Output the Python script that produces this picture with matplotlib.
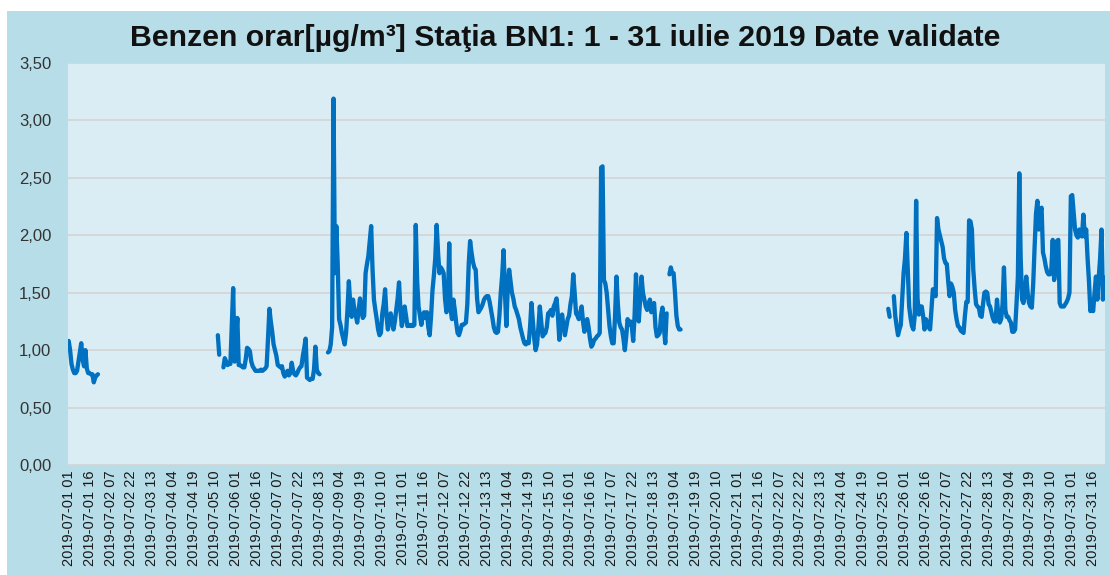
import numpy as np
import pandas as pd
import matplotlib
matplotlib.use("Agg")
import matplotlib.pyplot as plt
from matplotlib.patches import Rectangle
from matplotlib.ticker import FuncFormatter

# hourly benzene values, July 2019, station BN1 (None = missing hour)
start_hour = "2019-07-01 01:00"
n_hours = 744

seg1_start = 0
seg1 = [1.08, 1.00, 0.88, 0.83, 0.80, 0.80, 0.82, 0.90, 0.98, 1.06,
        0.92, 0.86, 1.00, 0.84, 0.80, 0.80, 0.79, 0.79, 0.72, 0.76,
        0.78, 0.79]

seg2_start = 107
seg2 = [1.13, 0.96, None, None, 0.85, 0.93, 0.90, 0.87, 0.88, 0.88,
        1.20, 1.54, 0.90, 1.10, 1.28, 0.87, 0.87, 0.86, 0.85, 0.85,
        0.92, 1.02, 1.01, 0.99, 0.90, 0.86, 0.84, 0.82, 0.82, 0.82,
        0.82, 0.83, 0.82, 0.83, 0.84, 0.86, 1.10, 1.36, 1.25, 1.16,
        1.05, 1.00, 0.95, 0.87, 0.86, 0.85, 0.86, 0.80, 0.77, 0.80,
        0.82, 0.78, 0.80, 0.89, 0.82, 0.79, 0.78, 0.80, 0.83, 0.85,
        0.86, 0.95, 1.02, 1.10, 0.76, 0.75, 0.74, 0.75, 0.75, 0.83,
        1.03, 0.83, 0.80, 0.79]

seg3_start = 186
seg3 = [0.98, 0.99, 1.05, 1.20, 3.19, 1.67, 2.08, 1.75, 1.27, 1.22,
        1.15, 1.10, 1.05, 1.15, 1.35, 1.60, 1.40, 1.29, 1.44, 1.35,
        1.30, 1.24, 1.35, 1.45, 1.35, 1.28, 1.30, 1.67, 1.75, 1.82,
        1.95, 2.08, 1.70, 1.44, 1.35, 1.27, 1.18, 1.13, 1.15, 1.32,
        1.40, 1.53, 1.30, 1.18, 1.25, 1.32, 1.25, 1.18, 1.25, 1.35,
        1.45, 1.59, 1.35, 1.21, 1.28, 1.38, 1.30, 1.21, 1.22, 1.21,
        1.22, 1.21, 1.22, 2.09, 1.60, 1.38, 1.30, 1.22, 1.30, 1.33,
        1.28, 1.33, 1.20, 1.13, 1.30, 1.52, 1.65, 1.80, 2.09, 1.85,
        1.67, 1.72, 1.70, 1.67, 1.45, 1.33, 1.40, 1.93, 1.35, 1.27,
        1.44, 1.35, 1.24, 1.15, 1.13, 1.17, 1.22, 1.22, 1.23, 1.24,
        1.40, 1.75, 1.95, 1.85, 1.77, 1.72, 1.70, 1.45, 1.33, 1.35,
        1.37, 1.40, 1.44, 1.46, 1.47, 1.47, 1.42, 1.35, 1.28, 1.20,
        1.16, 1.15, 1.16, 1.30, 1.50, 1.65, 1.87, 1.50, 1.21, 1.55,
        1.70, 1.60, 1.50, 1.45, 1.38, 1.35, 1.31, 1.27, 1.20, 1.15,
        1.10, 1.06, 1.05, 1.07, 1.06, 1.20, 1.41, 1.25, 1.10, 1.00,
        1.05, 1.20, 1.38, 1.25, 1.12, 1.14, 1.15, 1.20, 1.32, 1.33,
        1.35, 1.30, 1.38, 1.41, 1.45, 1.30, 1.09, 1.25, 1.31, 1.20,
        1.13, 1.20, 1.27, 1.30, 1.40, 1.47, 1.66, 1.50, 1.32, 1.30,
        1.27, 1.33, 1.38, 1.25, 1.16, 1.22, 1.27, 1.20, 1.10, 1.03,
        1.05, 1.09, 1.10, 1.12, 1.13, 1.15, 2.59, 2.60, 1.61, 1.58,
        1.50, 1.35, 1.21, 1.12, 1.06, 1.06, 1.30, 1.64, 1.40, 1.24,
        1.20, 1.18, 1.10, 1.00, 1.12, 1.27, 1.22, 1.25, 1.21, 1.08,
        1.30, 1.66, 1.35, 1.25, 1.45, 1.64, 1.50, 1.44, 1.38, 1.35,
        1.40, 1.44, 1.33, 1.38, 1.41, 1.20, 1.12, 1.13, 1.15, 1.30,
        1.37, 1.20, 1.06, 1.32, None, 1.66, 1.72, 1.67, 1.67, 1.50,
        1.30, 1.21, 1.18, 1.18]

seg4_start = 588
seg4 = [1.36, 1.29, None, None, 1.47, 1.30, 1.21, 1.13, 1.18, 1.22,
        1.45, 1.67, 1.80, 2.02, 1.70, 1.38, 1.28, 1.21, 1.18, 1.30,
        2.30, 1.45, 1.31, 1.38, 1.38, 1.30, 1.18, 1.27, 1.24, 1.20,
        1.18, 1.35, 1.53, 1.50, 1.47, 2.15, 2.05, 2.00, 1.95, 1.90,
        1.80, 1.76, 1.75, 1.60, 1.47, 1.58, 1.55, 1.50, 1.35, 1.27,
        1.21, 1.20, 1.17, 1.16, 1.15, 1.30, 1.42, 1.42, 2.13, 2.12,
        2.05, 1.70, 1.53, 1.40, 1.38, 1.37, 1.30, 1.29, 1.40, 1.50,
        1.51, 1.50, 1.40, 1.38, 1.33, 1.28, 1.25, 1.25, 1.44, 1.30,
        1.24, 1.27, 1.40, 1.72, 1.35, 1.29, 1.29, 1.26, 1.24, 1.16,
        1.16, 1.18, 1.40, 1.64, 2.54, 1.80, 1.44, 1.41, 1.50, 1.64,
        1.50, 1.41, 1.38, 1.37, 1.58, 1.90, 2.19, 2.30, 2.05, 2.20,
        2.24, 1.85, 1.80, 1.73, 1.68, 1.66, 1.66, 1.70, 1.96, 1.61,
        1.70, 1.95, 1.96, 1.41, 1.38, 1.38, 1.38, 1.40, 1.42, 1.45,
        1.50, 2.34, 2.35, 2.20, 2.05, 2.00, 1.98, 2.05, 2.00, 1.99,
        2.18, 1.99, 2.05, 1.80, 1.60, 1.34, 1.38, 1.34, 1.50, 1.64,
        1.44, 1.63, 1.80, 2.05, 1.44, 1.63]

yticks = [0, 0.5, 1.0, 1.5, 2.0, 2.5, 3.0, 3.5]
title = "Benzen orar[µg/m³] Staţia BN1: 1 - 31 iulie 2019 Date validate"

values = np.full(n_hours, np.nan)
for s, seg in [(seg1_start, seg1), (seg2_start, seg2), (seg3_start, seg3), (seg4_start, seg4)]:
    arr = np.array([np.nan if v is None else v for v in seg], dtype=float)
    values[s:s + len(arr)] = arr

hours = pd.date_range(start_hour, periods=n_hours, freq="h")
labels = hours.strftime("%Y-%m-%d %H")
x = np.arange(n_hours)

plt.rcParams["font.family"] = ["Liberation Sans", "DejaVu Sans"]

fig = plt.figure(figsize=(11.1, 5.75), dpi=100)
fig.patch.set_facecolor("white")
# outer chart panel, kept behind the axes
panel = Rectangle((7 / 1110, 0), 1 - 7 / 1110, 1 - 11 / 575,
                  transform=fig.transFigure, facecolor="#b7dde8",
                  edgecolor="none", zorder=-10)
fig.add_artist(panel)

ax = fig.add_axes([68 / 1110, 1 - 465 / 575, (1105 - 68) / 1110, (465 - 63) / 575])
ax.set_facecolor("#daedf4")
ax.plot(x, values, color="#0070c0", lw=3.1, solid_joinstyle="round", solid_capstyle="round")

ax.set_xlim(-0.5, n_hours - 0.5)
ax.set_ylim(0, 3.5)
ax.set_yticks(yticks)
ax.yaxis.set_major_formatter(FuncFormatter(lambda v, p: f"{v:.2f}".replace(".", ",")))
ax.grid(axis="y", color="#d4d4d4", lw=1.2)
ax.set_axisbelow(True)

tick_idx = x[::15]
ax.set_xticks(tick_idx)
ax.set_xticklabels(labels[::15], rotation=90, fontsize=10.5, color="#1a1a1a")
ax.tick_params(axis="y", labelsize=12, colors="#333333", length=0, pad=12)
ax.tick_params(axis="x", length=0, pad=4)
for sp in ax.spines.values():
    sp.set_visible(False)

fig.text(565 / 1110, 1 - 38 / 575, title, ha="center", va="center",
         fontsize=21.8, fontweight="bold", color="#111111")

fig.savefig("out.png", dpi=100, facecolor=fig.get_facecolor())
